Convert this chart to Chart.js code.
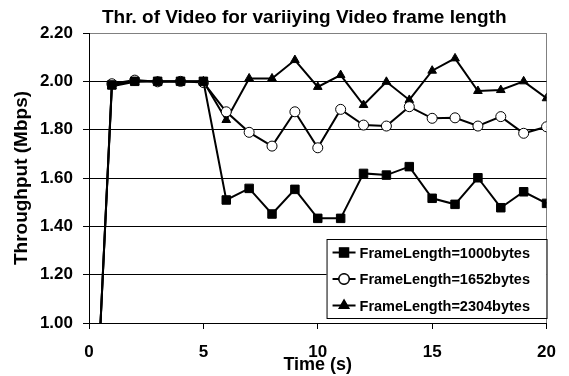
<!DOCTYPE html>
<html>
<head>
<meta charset="utf-8">
<script src="https://cdn.jsdelivr.net/npm/chart.js@4/dist/chart.umd.min.js"></script>
<style>
  body { margin: 0; background: #ffffff; }
  #wrap { width: 569px; height: 376px; }
</style>
</head>
<body>
<div id="wrap"><canvas id="throughputChart" width="569" height="376"></canvas></div>
<script>
// time (s)
const times = [0, 1, 2, 3, 4, 5, 6, 7, 8, 9, 10, 11, 12, 13, 14, 15, 16, 17, 18, 19, 20];
// throughput (Mbps) per frame length
const frame1000 = [0, 1.985, 2.00, 2.00, 2.00, 2.00, 1.509, 1.557, 1.451, 1.553, 1.433, 1.433, 1.619, 1.612, 1.647, 1.516, 1.491, 1.601, 1.477, 1.543, 1.495];
const frame1652 = [0, 1.99, 2.005, 1.998, 2.00, 1.995, 1.874, 1.789, 1.732, 1.874, 1.725, 1.884, 1.819, 1.815, 1.895, 1.847, 1.849, 1.815, 1.854, 1.785, 1.812];
const frame2304 = [0, 1.98, 1.998, 2.00, 1.998, 2.00, 1.840, 2.012, 2.012, 2.088, 1.977, 2.026, 1.902, 1.998, 1.923, 2.044, 2.095, 1.960, 1.964, 2.00, 1.930];
const seriesLabels = ['FrameLength=1000bytes', 'FrameLength=1652bytes', 'FrameLength=2304bytes'];
const yTicks = [1.00, 1.20, 1.40, 1.60, 1.80, 2.00, 2.20];
const xTicks = [0, 5, 10, 15, 20];

const FONT = "'Liberation Sans', Arial, sans-serif";

function toPoints(values) {
  return times.map((t, i) => ({ x: t, y: values[i] }));
}

function makeSet(label, values, style, fill) {
  const r = style === 'rect' ? 6 : 5;
  return {
    label: label,
    data: toPoints(values),
    borderColor: '#000000',
    borderWidth: 2,
    pointStyle: style,
    pointRadius: (c) => c.dataIndex === 0 ? 0 : r,
    pointHoverRadius: (c) => c.dataIndex === 0 ? 0 : r,
    pointBackgroundColor: fill,
    pointBorderColor: '#000000',
    pointBorderWidth: 1,
    tension: 0
  };
}

// shift the title so it sits where the original one does
const titleShift = {
  id: 'titleShift',
  afterLayout(chart) {
    if (chart.titleBlock) {
      chart.titleBlock.left = 62;
      chart.titleBlock.right = chart.chartArea.right;
    }
  }
};

// legend box drawn inside the plot, bottom right
const insideLegend = {
  id: 'insideLegend',
  afterDraw(chart) {
    const c = chart.ctx;
    const area = chart.chartArea;
    const w = 220, h = 79;
    const x = area.right - w, y = area.bottom - 5 - h;
    c.save();
    c.fillStyle = '#ffffff';
    c.fillRect(x, y, w, h);
    c.strokeStyle = '#000000';
    c.lineWidth = 1;
    c.strokeRect(x + 0.5, y + 0.5, w, h);
    c.font = 'bold 14.5px ' + FONT;
    c.textBaseline = 'middle';
    c.textAlign = 'left';
    chart.data.datasets.forEach((ds, i) => {
      const ry = y + 13.5 + i * 26.5;
      c.beginPath();
      c.moveTo(x + 6, ry);
      c.lineTo(x + 29, ry);
      c.strokeStyle = '#000000';
      c.lineWidth = 2;
      c.stroke();
      Chart.helpers.drawPoint(c, {
        pointStyle: ds.pointStyle,
        radius: ds.pointStyle === 'rect' ? 6 : 5,
        rotation: 0,
        borderWidth: 1
      }, x + 17.5, ry);
      c.fillStyle = ds.pointBackgroundColor;
      c.strokeStyle = '#000000';
      c.lineWidth = 1;
      c.fill();
      c.stroke();
      c.fillStyle = '#000000';
      c.fillText(ds.label, x + 33, ry + 1);
    });
    c.restore();
  }
};

document.addEventListener("DOMContentLoaded", function () {
  const ctx = document.getElementById('throughputChart').getContext('2d');
  const throughputChart = new Chart(ctx, {
    type: 'line',
    data: {
      datasets: [
        makeSet(seriesLabels[0], frame1000, 'rect', '#000000'),
        makeSet(seriesLabels[1], frame1652, 'circle', '#ffffff'),
        makeSet(seriesLabels[2], frame2304, 'triangle', '#000000')
      ]
    },
    options: {
      responsive: false,
      animation: false,
      layout: { padding: { left: 0, right: 22, top: 0, bottom: 0 } },
      plugins: {
        legend: { display: false },
        tooltip: { enabled: false },
        title: {
          display: true,
          text: 'Thr. of Video for variiying Video frame length',
          color: '#000000',
          font: { family: FONT, size: 19, weight: 'bold' },
          padding: { top: 6.6, bottom: 3.6 }
        }
      },
      scales: {
        x: {
          type: 'linear',
          min: 0,
          max: 20,
          afterBuildTicks: (s) => { s.ticks = xTicks.map(v => ({ value: v })); },
          afterFit: (s) => { s.height = 53; },
          ticks: {
            color: '#000000',
            padding: 13,
            maxRotation: 0,
            font: { family: FONT, size: 17, weight: 'bold' }
          },
          grid: {
            color: (c) => c.tick && c.tick.value === 20 ? '#808080' : 'rgba(0,0,0,0)',
            tickColor: '#000000',
            tickLength: 6,
            lineWidth: 1
          },
          border: { color: '#000000', width: 1 },
          title: {
            display: true,
            text: 'Time (s)',
            color: '#000000',
            font: { family: FONT, size: 18, weight: 'bold' },
            padding: { top: 0, bottom: 0 }
          }
        },
        y: {
          min: 1.0,
          max: 2.2,
          afterBuildTicks: (s) => { s.ticks = yTicks.map(v => ({ value: v })); },
          afterFit: (s) => { s.width = 89; },
          ticks: {
            color: '#000000',
            padding: 10,
            callback: (v) => Number(v).toFixed(2),
            font: { family: FONT, size: 17, weight: 'bold' }
          },
          grid: {
            color: (c) => c.tick && Math.abs(c.tick.value - 2.2) < 1e-6 ? '#808080' : '#000000',
            tickColor: '#000000',
            tickLength: 6,
            lineWidth: 1
          },
          border: { color: '#000000', width: 1 },
          title: {
            display: true,
            text: 'Throughput (Mbps)',
            color: '#000000',
            font: { family: FONT, size: 19, weight: 'bold' },
            padding: { top: 10.6, bottom: 0 }
          }
        }
      }
    },
    plugins: [titleShift, insideLegend]
  });
});
</script>
</body>
</html>
